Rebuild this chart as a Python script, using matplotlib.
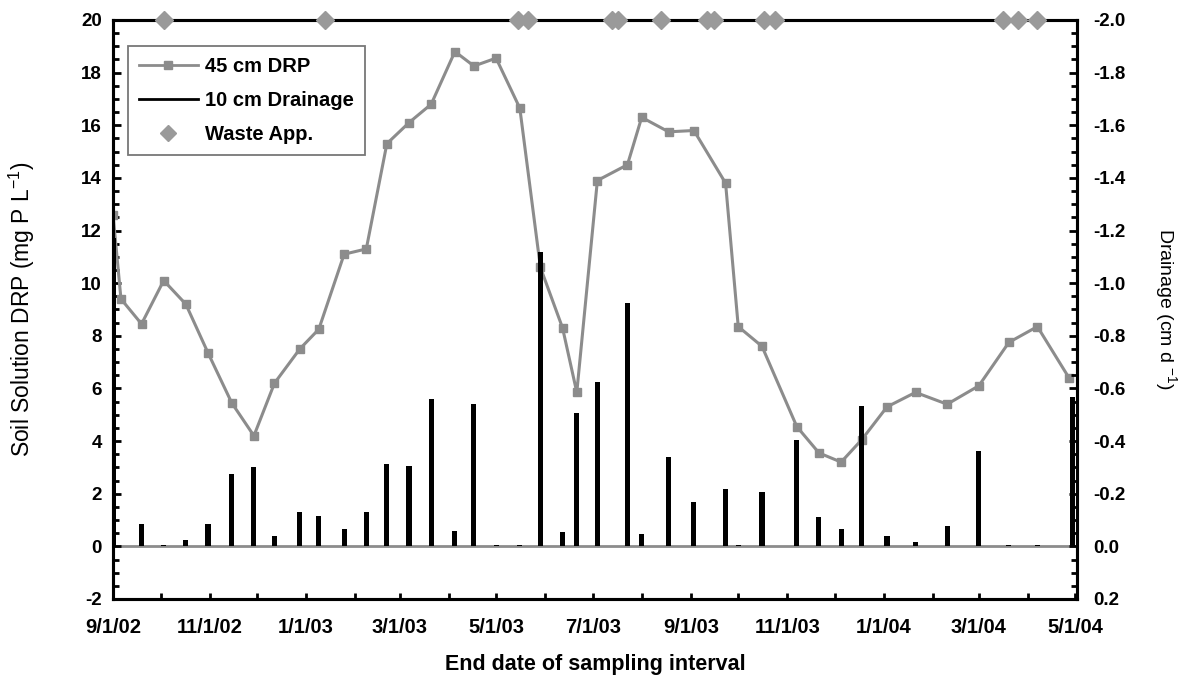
import matplotlib
matplotlib.use("Agg")
import matplotlib.pyplot as plt
import matplotlib.dates as mdates
from matplotlib.lines import Line2D
from matplotlib.ticker import MultipleLocator, FuncFormatter
from datetime import datetime

plt.rcParams['font.family'] = ['Liberation Sans', 'DejaVu Sans']
plt.rcParams['mathtext.default'] = 'regular'

# 45 cm soil solution DRP (mg P/L)
drp_dates = ["2002-09-01", "2002-09-06", "2002-09-19", "2002-10-03", "2002-10-17",
             "2002-10-31", "2002-11-15", "2002-11-29", "2002-12-12", "2002-12-28",
             "2003-01-09", "2003-01-25", "2003-02-08", "2003-02-21", "2003-03-07",
             "2003-03-21", "2003-04-05", "2003-04-17", "2003-05-01", "2003-05-16",
             "2003-05-29", "2003-06-12", "2003-06-21", "2003-07-04", "2003-07-23",
             "2003-08-01", "2003-08-18", "2003-09-03", "2003-09-23", "2003-10-01",
             "2003-10-16", "2003-11-07", "2003-11-21", "2003-12-05", "2003-12-18",
             "2004-01-03", "2004-01-21", "2004-02-10", "2004-03-01", "2004-03-20",
             "2004-04-07", "2004-04-27"]
drp_values = [12.6, 9.4, 8.45, 10.1, 9.2,
              7.35, 5.45, 4.2, 6.2, 7.5,
              8.25, 11.1, 11.3, 15.3, 16.1,
              16.8, 18.8, 18.25, 18.55, 16.65,
              10.6, 8.3, 5.85, 13.9, 14.5,
              16.3, 15.75, 15.8, 13.8, 8.35,
              7.6, 4.55, 3.55, 3.2, 4.05,
              5.3, 5.85, 5.4, 6.1, 7.75,
              8.35, 6.4]

# 10 cm drainage (cm/d, negative = downward)
drain_dates = ["2002-09-01", "2002-09-19", "2002-10-03", "2002-10-17", "2002-10-31",
               "2002-11-15", "2002-11-29", "2002-12-12", "2002-12-28", "2003-01-09",
               "2003-01-25", "2003-02-08", "2003-02-21", "2003-03-07", "2003-03-21",
               "2003-04-05", "2003-04-17", "2003-05-01", "2003-05-16", "2003-05-29",
               "2003-06-12", "2003-06-21", "2003-07-04", "2003-07-23", "2003-08-01",
               "2003-08-18", "2003-09-03", "2003-09-23", "2003-10-01", "2003-10-16",
               "2003-11-07", "2003-11-21", "2003-12-05", "2003-12-18", "2004-01-03",
               "2004-01-21", "2004-02-10", "2004-03-01", "2004-03-20", "2004-04-07",
               "2004-04-29"]
drain_values = [-1.17, -0.085, -0.005, -0.023, -0.085,
                -0.275, -0.30, -0.038, -0.13, -0.115,
                -0.065, -0.13, -0.312, -0.305, -0.56,
                -0.058, -0.54, -0.005, -0.005, -1.12,
                -0.055, -0.505, -0.625, -0.925, -0.048,
                -0.34, -0.168, -0.217, -0.005, -0.205,
                -0.403, -0.11, -0.065, -0.532, -0.04,
                -0.018, -0.077, -0.362, -0.004, -0.005,
                -0.567]

# waste application dates
waste_dates = ["2002-10-03", "2003-01-13", "2003-05-15", "2003-05-21", "2003-07-13",
               "2003-07-17", "2003-08-13", "2003-09-11", "2003-09-16", "2003-10-17",
               "2003-10-24", "2004-03-16", "2004-03-26", "2004-04-07"]

to_dt = lambda lst: [datetime.strptime(s, "%Y-%m-%d") for s in lst]
drp_x = to_dt(drp_dates)
drain_x = to_dt(drain_dates)
waste_x = to_dt(waste_dates)

gray = '#8c8c8c'
dgray = '#9a9a9a'

fig = plt.figure(figsize=(11.9, 6.84), dpi=100)
ax = fig.add_axes([0.095, 0.1243, 0.81, 0.8465])
ax2 = ax.twinx()

ax.axhline(0, color=gray, lw=2, zorder=1)
ax.plot(drp_x, drp_values, color=gray, lw=2.2, marker='s', ms=6,
        markeredgecolor=gray, zorder=3)

ax2.bar(drain_x, drain_values, width=3.2, color='black', zorder=3)
ax2.plot(waste_x, [-2.0] * len(waste_x), linestyle='none', marker='D', ms=9,
         color=dgray, clip_on=False, zorder=5)

ax.set_xlim(datetime(2002, 9, 1), datetime(2004, 5, 2))
ax.set_ylim(-2, 20)
ax2.set_ylim(0.2, -2.0)


def date_fmt(v, p):
    d = mdates.num2date(v)
    return "%d/%d/%s" % (d.month, d.day, d.strftime('%y'))


ax.xaxis.set_major_locator(mdates.MonthLocator(bymonth=[1, 3, 5, 7, 9, 11]))
ax.xaxis.set_minor_locator(mdates.MonthLocator())
ax.xaxis.set_major_formatter(FuncFormatter(date_fmt))

ax.yaxis.set_major_locator(MultipleLocator(2))
ax.yaxis.set_minor_locator(MultipleLocator(0.5))
ax.yaxis.set_major_formatter(FuncFormatter(lambda v, p: "%d" % v))
ax2.yaxis.set_major_locator(MultipleLocator(0.2))
ax2.yaxis.set_minor_locator(MultipleLocator(0.05))
ax2.yaxis.set_major_formatter(FuncFormatter(lambda v, p: "%.1f" % (0 if abs(v) < 1e-9 else v)))

for a in (ax, ax2):
    for s in a.spines.values():
        s.set_linewidth(2.2)
        s.set_color('black')
ax.tick_params(axis='y', which='major', direction='in', length=6, width=2,
               labelsize=13.5, pad=8)
ax.tick_params(axis='both', which='minor', direction='in', length=4, width=2)
ax.tick_params(axis='x', which='major', direction='in', length=4, width=2,
               labelsize=14.5, pad=14)
ax2.tick_params(axis='y', which='major', direction='in', length=6, width=2,
                labelsize=13.5, pad=12)
ax2.tick_params(axis='y', which='minor', direction='in', length=4, width=2)
for lab in ax.get_xticklabels() + ax.get_yticklabels() + ax2.get_yticklabels():
    lab.set_fontweight('bold')

ax.set_ylabel("Soil Solution DRP (mg P L$^{-1}$)", fontsize=16.5, labelpad=32)
ax2.set_ylabel("Drainage (cm d $^{-1}$)", fontsize=14, rotation=270, labelpad=38)
ax.set_xlabel("End date of sampling interval", fontsize=15.5, fontweight='bold', labelpad=12)

handles = [Line2D([], [], color=gray, lw=2, marker='s', ms=6),
           Line2D([], [], color='black', lw=2),
           Line2D([], [], linestyle='none', marker='D', ms=8, color=dgray)]
leg = ax2.legend(handles, ["45 cm DRP", "10 cm Drainage", "Waste App."],
                 loc='upper left', bbox_to_anchor=(0.0156, 0.955), borderaxespad=0,
                 fancybox=False, edgecolor='#777777', framealpha=1,
                 prop={'size': 14.5, 'weight': 'bold'}, handlelength=2.9,
                 handletextpad=0.35, labelspacing=0.75, borderpad=0.55)
leg.get_frame().set_linewidth(1.3)

fig.savefig("out.png", dpi=100)
